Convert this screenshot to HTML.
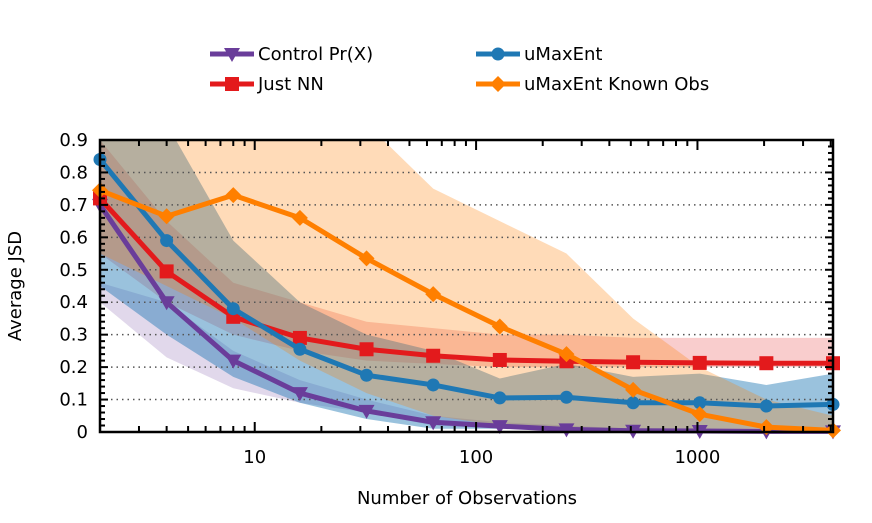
<!DOCTYPE html>
<html><head><meta charset="utf-8">
<style>
body{margin:0;background:#fff;}
svg{display:block;font-family:"DejaVu Sans","Liberation Sans",sans-serif;}
</style></head>
<body>
<svg id="chart" width="872" height="523" viewBox="0 0 872 523" xmlns="http://www.w3.org/2000/svg">
<g id="legend"></g>
<g id="bands"></g>
<g id="grid"></g>
<g id="series"></g>
<g id="axes"></g>
<text x="467" y="504" font-size="18" text-anchor="middle">Number of Observations</text>
<text transform="translate(21,286) rotate(-90)" font-size="18" text-anchor="middle">Average JSD</text>
</svg>
<script>
const xs = [2,4,8,16,32,64,128,256,512,1024,2048,4096];
const controlVals = [0.70,0.40,0.22,0.12,0.065,0.03,0.018,0.008,0.004,0.003,0.002,0.002];
const nnVals = [0.72,0.495,0.355,0.29,0.255,0.235,0.222,0.218,0.215,0.213,0.212,0.212];
const umaxVals = [0.84,0.59,0.38,0.255,0.175,0.145,0.105,0.107,0.09,0.09,0.08,0.085];
const knownVals = [0.745,0.665,0.73,0.66,0.535,0.425,0.325,0.24,0.13,0.055,0.015,0.005];
const controlLo = [0.40,0.23,0.135,0.09,0.06,0.02,0.01,0.003,0.001,0,0,0];
const controlHi = [0.46,0.40,0.25,0.16,0.10,0.05,0.03,0.02,0.01,0.01,0.005,0.005];
const nnLo = [0.55,0.40,0.30,0.25,0.22,0.21,0.20,0.20,0.20,0.20,0.20,0.20];
const nnHi = [0.90,0.65,0.46,0.40,0.34,0.32,0.30,0.30,0.29,0.29,0.29,0.29];
const umaxLo = [0.45,0.30,0.17,0.09,0.04,0.01,0.01,0.01,0.01,0.01,0.01,0.01];
const umaxHi = [0.95,0.95,0.59,0.40,0.30,0.25,0.165,0.21,0.17,0.18,0.145,0.18];
const knownLo = [0.55,0.45,0.35,0.22,0.12,0.05,0.02,0.01,0.005,0,0,0];
const knownHi = [0.95,0.95,0.95,0.95,0.95,0.75,0.65,0.55,0.35,0.2,0.10,0.05];
const yTicks = [0,0.1,0.2,0.3,0.4,0.5,0.6,0.7,0.8,0.9];
const xTicks = [10,100,1000];
const xTickLabels = ["10","100","1000"];

const NS="http://www.w3.org/2000/svg";
const L=100,R=833,T=140,B=432;
const xmin=2,xmax=4096;
function X(v){return L+(Math.log(v)-Math.log(xmin))/(Math.log(xmax)-Math.log(xmin))*(R-L);}
function Y(v){return B-(v/0.9)*(B-T);}
function mk(tag,attrs,parent){const e=document.createElementNS(NS,tag);for(const k in attrs)e.setAttribute(k,attrs[k]);parent.appendChild(e);return e;}
const clipDef=mk('defs',{},document.getElementById('chart'));
const cp=mk('clipPath',{id:'plotclip'},clipDef);
mk('rect',{x:L,y:T,width:R-L,height:B-T},cp);

const series=[
 {name:'control',vals:controlVals,lo:controlLo,hi:controlHi,color:'#6a3d9a',marker:'tri',label:'Control Pr(X)'},
 {name:'just-nn',vals:nnVals,lo:nnLo,hi:nnHi,color:'#e31a1c',marker:'sq',label:'Just NN'},
 {name:'umaxent',vals:umaxVals,lo:umaxLo,hi:umaxHi,color:'#1f78b4',marker:'circ',label:'uMaxEnt'},
 {name:'umaxent-known',vals:knownVals,lo:knownLo,hi:knownHi,color:'#ff7f00',marker:'dia',label:'uMaxEnt Known Obs'}
];
const bandsG=document.getElementById('bands');
bandsG.setAttribute('clip-path','url(#plotclip)');
const bandOrder=[0,1,2,3];
const bandOp=[0.2,0.22,0.45,0.28];
bandOrder.forEach(i=>{const s=series[i];
 let pts=xs.map((x,j)=>X(x)+','+Y(s.hi[j]));
 pts=pts.concat(xs.map((x,j)=>X(x)+','+Y(s.lo[j])).reverse());
 const p=mk('polygon',{points:pts.join(' '),fill:s.color,'fill-opacity':bandOp[i]},bandsG);
 
 
});
const gridG=document.getElementById('grid');
yTicks.forEach(t=>{if(t===0)return;const l=mk('line',{x1:L,x2:R,y1:Y(t),y2:Y(t),stroke:'#555','stroke-width':1.5,'stroke-dasharray':'1.5 4'},gridG);
 });
function marker(type,cx,cy,color,g){
 let e;
 if(type==='tri')e=mk('polygon',{points:`${cx-8},${cy-6} ${cx+8},${cy-6} ${cx},${cy+8}`,fill:color},g);
 else if(type==='sq')e=mk('rect',{x:cx-7,y:cy-7,width:14,height:14,fill:color},g);
 else if(type==='circ')e=mk('circle',{cx:cx,cy:cy,r:6.5,fill:color},g);
 else e=mk('polygon',{points:`${cx},${cy-8} ${cx+8},${cy} ${cx},${cy+8} ${cx-8},${cy}`,fill:color},g);
 return e;
}
const serG=document.getElementById('series');
[0,1,2,3].forEach(i=>{const s=series[i];
 const g=mk('g',{},serG);
 
 const pl=mk('polyline',{points:xs.map((x,j)=>X(x)+','+Y(s.vals[j])).join(' '),fill:'none',stroke:s.color,'stroke-width':5,'stroke-linejoin':'round'},g);
 
 xs.forEach((x,j)=>{const m=marker(s.marker,X(x),Y(s.vals[j]),s.color,g);
  });
});
const ax=document.getElementById('axes');
const frame=mk('rect',{x:L,y:T,width:R-L,height:B-T,fill:'none',stroke:'#000','stroke-width':2.5},ax);

for(let v=0;v<=0.9001;v+=0.02){const major=Math.abs(v*10-Math.round(v*10))<1e-6;const len=major?8:5;
 mk('line',{x1:L,x2:L+len,y1:Y(v),y2:Y(v),stroke:'#000','stroke-width':2},ax);
 mk('line',{x1:R-len,x2:R,y1:Y(v),y2:Y(v),stroke:'#000','stroke-width':2},ax);}
yTicks.forEach(t=>{const tx=mk('text',{x:L-12,y:Y(t)+6,'font-size':18,'text-anchor':'end'},ax);tx.textContent=String(t);
 });
for(let d=1;d<=1000;d*=10){for(let k=1;k<10;k++){const v=d*k;if(v<xmin||v>xmax)continue;const major=k===1;const len=major?10:6;
 mk('line',{x1:X(v),x2:X(v),y1:B,y2:B-len,stroke:'#000','stroke-width':2},ax);
 mk('line',{x1:X(v),x2:X(v),y1:T,y2:T+len,stroke:'#000','stroke-width':2},ax);}}
xTicks.forEach((t,i)=>{const tx=mk('text',{x:X(t),y:463,'font-size':18,'text-anchor':'middle'},ax);tx.textContent=xTickLabels[i];
 });
const lg=document.getElementById('legend');
const lpos=[[232,54],[232,84],[498,54],[498,84]];
series.forEach((s,i)=>{const g=mk('g',{},lg);
 
 const [cx,cy]=lpos[i];
 mk('line',{x1:cx-22,x2:cx+22,y1:cy,y2:cy,stroke:s.color,'stroke-width':5},g);
 marker(s.marker,cx,cy,s.color,g);
 const t=mk('text',{x:cx+26,y:cy+6,'font-size':18},g);t.textContent=s.label;});
</script>
</body></html>
